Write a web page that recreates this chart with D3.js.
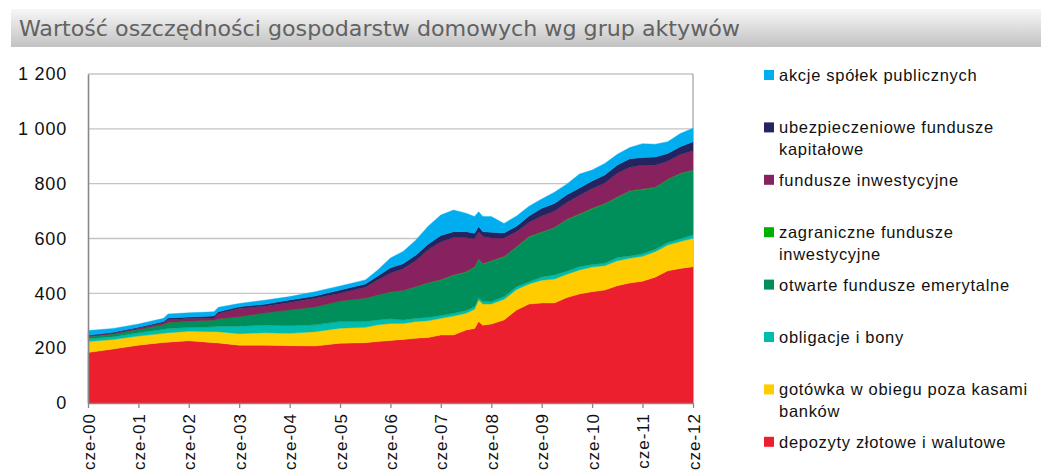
<!DOCTYPE html>
<html>
<head>
<meta charset="utf-8">
<script src="https://cdn.jsdelivr.net/npm/d3@7/dist/d3.min.js"></script>
<style>
  body { margin: 0; background: #fff; }
  svg { display: block; }
  .sans { font-family: Arial, 'Liberation Sans', Helvetica, sans-serif; }
</style>
</head>
<body>
<svg id="chart" width="1041" height="474"></svg>
<script>
// miesiące (koniec okresu), mld zł
const months = [
  '2000-06', '2000-12', '2001-06', '2001-12', '2002-01', '2002-06', '2002-12', '2003-01',
  '2003-06', '2003-12', '2004-06', '2004-12', '2005-06', '2005-12', '2006-03', '2006-06',
  '2006-09', '2006-12', '2007-03', '2007-06', '2007-09', '2007-12', '2008-02', '2008-03',
  '2008-04', '2008-06', '2008-09', '2008-12', '2009-03', '2009-06', '2009-09', '2009-12',
  '2010-03', '2010-06', '2010-09', '2010-12', '2011-03', '2011-06', '2011-09', '2011-12',
  '2012-03', '2012-06'
];

const depozyty = [
  184, 197, 211, 221, 222, 227, 220, 219, 211, 211, 209, 208, 218, 220, 224, 228,
  232, 236, 239, 248, 248, 266, 272, 297, 284, 288, 303, 339, 361, 365, 365, 385,
  398, 406, 412, 428, 438, 444, 459, 482, 491, 497
];
const gotowka = [
  40, 35, 33, 33, 34, 35, 40, 41, 42, 45, 45, 52, 55, 56, 61, 62,
  58, 61, 61, 61, 69, 61, 70, 79, 77, 73, 75, 75, 73, 83, 87, 85,
  87, 90, 89, 91, 90, 91, 93, 94, 98, 104
];
const obligacje = [
  10, 10, 12, 15, 16, 13, 18, 20, 27, 28, 28, 25, 24, 21, 18, 17,
  13, 12, 12, 10, 10, 10, 9, 8, 9, 8, 10, 10, 8, 12, 15, 11,
  12, 9, 9, 12, 8, 9, 9, 9, 10, 12
];
const ofe = [
  8, 10, 12, 17, 22, 23, 24, 26, 35, 44, 57, 65, 75, 85, 91, 97,
  106, 114, 126, 129, 138, 140, 144, 138, 137, 148, 144, 144, 163, 162, 171, 187,
  190, 203, 216, 218, 236, 235, 224, 229, 237, 235
];
const zagraniczne = [
  0, 0, 0, 0, 0, 0, 0, 0, 0, 0, 0, 0, 0, 0, 0, 1,
  1, 1, 1, 2, 2, 2, 2, 2, 2, 2, 2, 2, 2, 2, 2, 2,
  2, 2, 2, 2, 2, 2, 2, 2, 2, 2
];
const funduszeInw = [
  3, 3, 5, 7, 10, 10, 8, 20, 30, 25, 28, 32, 28, 40, 55, 68,
  80, 95, 120, 137, 137, 124, 102, 100, 98, 83, 68, 55, 51, 58, 59, 61,
  68, 72, 74, 87, 86, 87, 80, 66, 68, 70
];
const ubezpieczeniowe = [
  2, 3, 3, 4, 6, 6, 7, 7, 6, 7, 9, 8, 12, 12, 14, 20,
  18, 20, 20, 24, 21, 22, 20, 20, 18, 21, 18, 20, 24, 28, 29, 29,
  27, 28, 30, 30, 31, 27, 30, 28, 29, 33
];
const akcje = [
  17, 14, 12, 12, 15, 15, 16, 16, 12, 15, 12, 16, 15, 15, 22, 36,
  45, 55, 66, 75, 79, 67, 61, 54, 55, 57, 35, 37, 36, 34, 41, 39,
  51, 40, 42, 39, 41, 51, 47, 43, 48, 49
];

const yTicks = [0, 200, 400, 600, 800, 1000, 1200];
const xTickYears = [2000, 2001, 2002, 2003, 2004, 2005, 2006, 2007, 2008, 2009, 2010, 2011, 2012];
const xTickLabels = ['cze-00', 'cze-01', 'cze-02', 'cze-03', 'cze-04', 'cze-05', 'cze-06',
  'cze-07', 'cze-08', 'cze-09', 'cze-10', 'cze-11', 'cze-12'];

// kolejność od dołu stosu
const series = [
  { key: 'dep', name: ['depozyty złotowe i walutowe'], values: depozyty, color: '#ec1f2f' },
  { key: 'got', name: ['gotówka w obiegu poza kasami', 'banków'], values: gotowka, color: '#ffcc00' },
  { key: 'obl', name: ['obligacje i bony'], values: obligacje, color: '#00bcae' },
  { key: 'ofe', name: ['otwarte fundusze emerytalne'], values: ofe, color: '#008f5b' },
  { key: 'zag', name: ['zagraniczne fundusze', 'inwestycyjne'], values: zagraniczne, color: '#00b000' },
  { key: 'fin', name: ['fundusze inwestycyjne'], values: funduszeInw, color: '#87225e' },
  { key: 'ube', name: ['ubezpieczeniowe fundusze', 'kapitałowe'], values: ubezpieczeniowe, color: '#242461' },
  { key: 'akc', name: ['akcje spółek publicznych'], values: akcje, color: '#00aeef' }
];

const parseMonth = d3.timeParse('%Y-%m');
const rows = months.map((m, i) => {
  const row = { date: parseMonth(m) };
  series.forEach(s => { row[s.key] = s.values[i]; });
  return row;
});

const svg = d3.select('#chart');
const plot = { left: 88, right: 693, top: 74, bottom: 403 };

// pasek tytułu
const defs = svg.append('defs');
const grad = defs.append('linearGradient')
  .attr('id', 'titleGrad')
  .attr('x1', 0).attr('y1', 0).attr('x2', 0).attr('y2', 1);
grad.append('stop').attr('offset', '0%').attr('stop-color', '#f7f7f7');
grad.append('stop').attr('offset', '100%').attr('stop-color', '#c2c2c2');

svg.append('rect')
  .attr('x', 11).attr('y', 9)
  .attr('width', 1030).attr('height', 38)
  .attr('fill', 'url(#titleGrad)');

svg.append('text')
  .attr('x', 19).attr('y', 36)
  .attr('textLength', 721)
  .attr('lengthAdjust', 'spacingAndGlyphs')
  .style('font-family', '"DejaVu Sans Condensed", "DejaVu Sans", sans-serif')
  .style('font-size', '21px')
  .attr('fill', '#626262')
  .text('Wartość oszczędności gospodarstw domowych wg grup aktywów');

const x = d3.scaleTime()
  .domain([parseMonth('2000-06'), parseMonth('2012-06')])
  .range([plot.left, plot.right]);

const y = d3.scaleLinear()
  .domain([0, 1200])
  .range([plot.bottom, plot.top]);

// siatka
svg.append('g')
  .selectAll('line')
  .data(yTicks.filter(v => v > 0))
  .enter()
  .append('line')
  .attr('x1', plot.left).attr('x2', plot.right)
  .attr('y1', d => y(d)).attr('y2', d => y(d))
  .attr('stroke', '#c4c4c4')
  .attr('stroke-width', 1.3);

svg.append('line')
  .attr('x1', plot.right).attr('x2', plot.right)
  .attr('y1', plot.top).attr('y2', plot.bottom)
  .attr('stroke', '#a6a6a6')
  .attr('stroke-width', 1.3);

// warstwy
const stack = d3.stack().keys(series.map(s => s.key));
const layers = stack(rows);

const area = d3.area()
  .x(d => x(d.data.date))
  .y0(d => y(d[0]))
  .y1(d => y(d[1]));

svg.append('g')
  .selectAll('path')
  .data(layers)
  .enter()
  .append('path')
  .attr('d', area)
  .attr('fill', (d, i) => series[i].color)
  .attr('stroke', (d, i) => series[i].color)
  .attr('stroke-width', 0.4);

// oś Y
const fmt = d3.formatLocale({ decimal: ',', thousands: ' ', grouping: [3], currency: ['', ''] }).format(',');

const yAxis = svg.append('g')
  .attr('transform', `translate(${plot.left},0)`)
  .call(d3.axisLeft(y).tickValues(yTicks).tickSize(0).tickPadding(21).tickFormat(fmt));
yAxis.select('.domain')
  .attr('stroke', '#888')
  .attr('stroke-width', 1.6);
yAxis.selectAll('text')
  .attr('class', 'sans')
  .attr('font-size', '18px')
  .attr('letter-spacing', '0.8px')
  .attr('fill', '#111');

// oś X
const xTickDates = xTickYears.map(yr => new Date(yr, 5, 1));
const xAxis = svg.append('g')
  .attr('transform', `translate(0,${plot.bottom})`)
  .call(d3.axisBottom(x)
    .tickValues(xTickDates)
    .tickSize(5)
    .tickSizeOuter(0)
    .tickFormat((d, i) => xTickLabels[i]));
xAxis.select('.domain')
  .attr('stroke', '#888')
  .attr('stroke-width', 1.6);
xAxis.selectAll('.tick line')
  .attr('stroke', '#888')
  .attr('stroke-width', 1.3);
xAxis.selectAll('text')
  .attr('class', 'sans')
  .attr('transform', 'rotate(-90)')
  .attr('x', -10)
  .attr('y', 0)
  .attr('dy', '0.36em')
  .attr('font-size', '17px')
  .attr('letter-spacing', '1px')
  .attr('fill', '#111')
  .style('text-anchor', 'end');
// axis g sets font-family on group; drop it so the class applies
yAxis.attr('font-family', null).attr('font-size', null);
xAxis.attr('font-family', null).attr('font-size', null);

// legenda (od góry: ostatnia warstwa stosu)
const legendItems = series.slice().reverse();
const legend = svg.append('g').attr('class', 'legend sans');

legend.selectAll('rect')
  .data(legendItems)
  .enter()
  .append('rect')
  .attr('x', 764)
  .attr('y', (d, i) => 70 + i * 52.4)
  .attr('width', 10)
  .attr('height', 10)
  .attr('fill', d => d.color);

legend.selectAll('text')
  .data(legendItems)
  .enter()
  .append('text')
  .attr('font-size', '16.5px')
  .attr('letter-spacing', '0.7px')
  .attr('fill', '#111')
  .each(function (d, i) {
    d.name.forEach((line, j) => {
      d3.select(this)
        .append('tspan')
        .attr('x', 779)
        .attr('y', 81 + i * 52.4 + j * 21.5)
        .text(line);
    });
  });
</script>
</body>
</html>
